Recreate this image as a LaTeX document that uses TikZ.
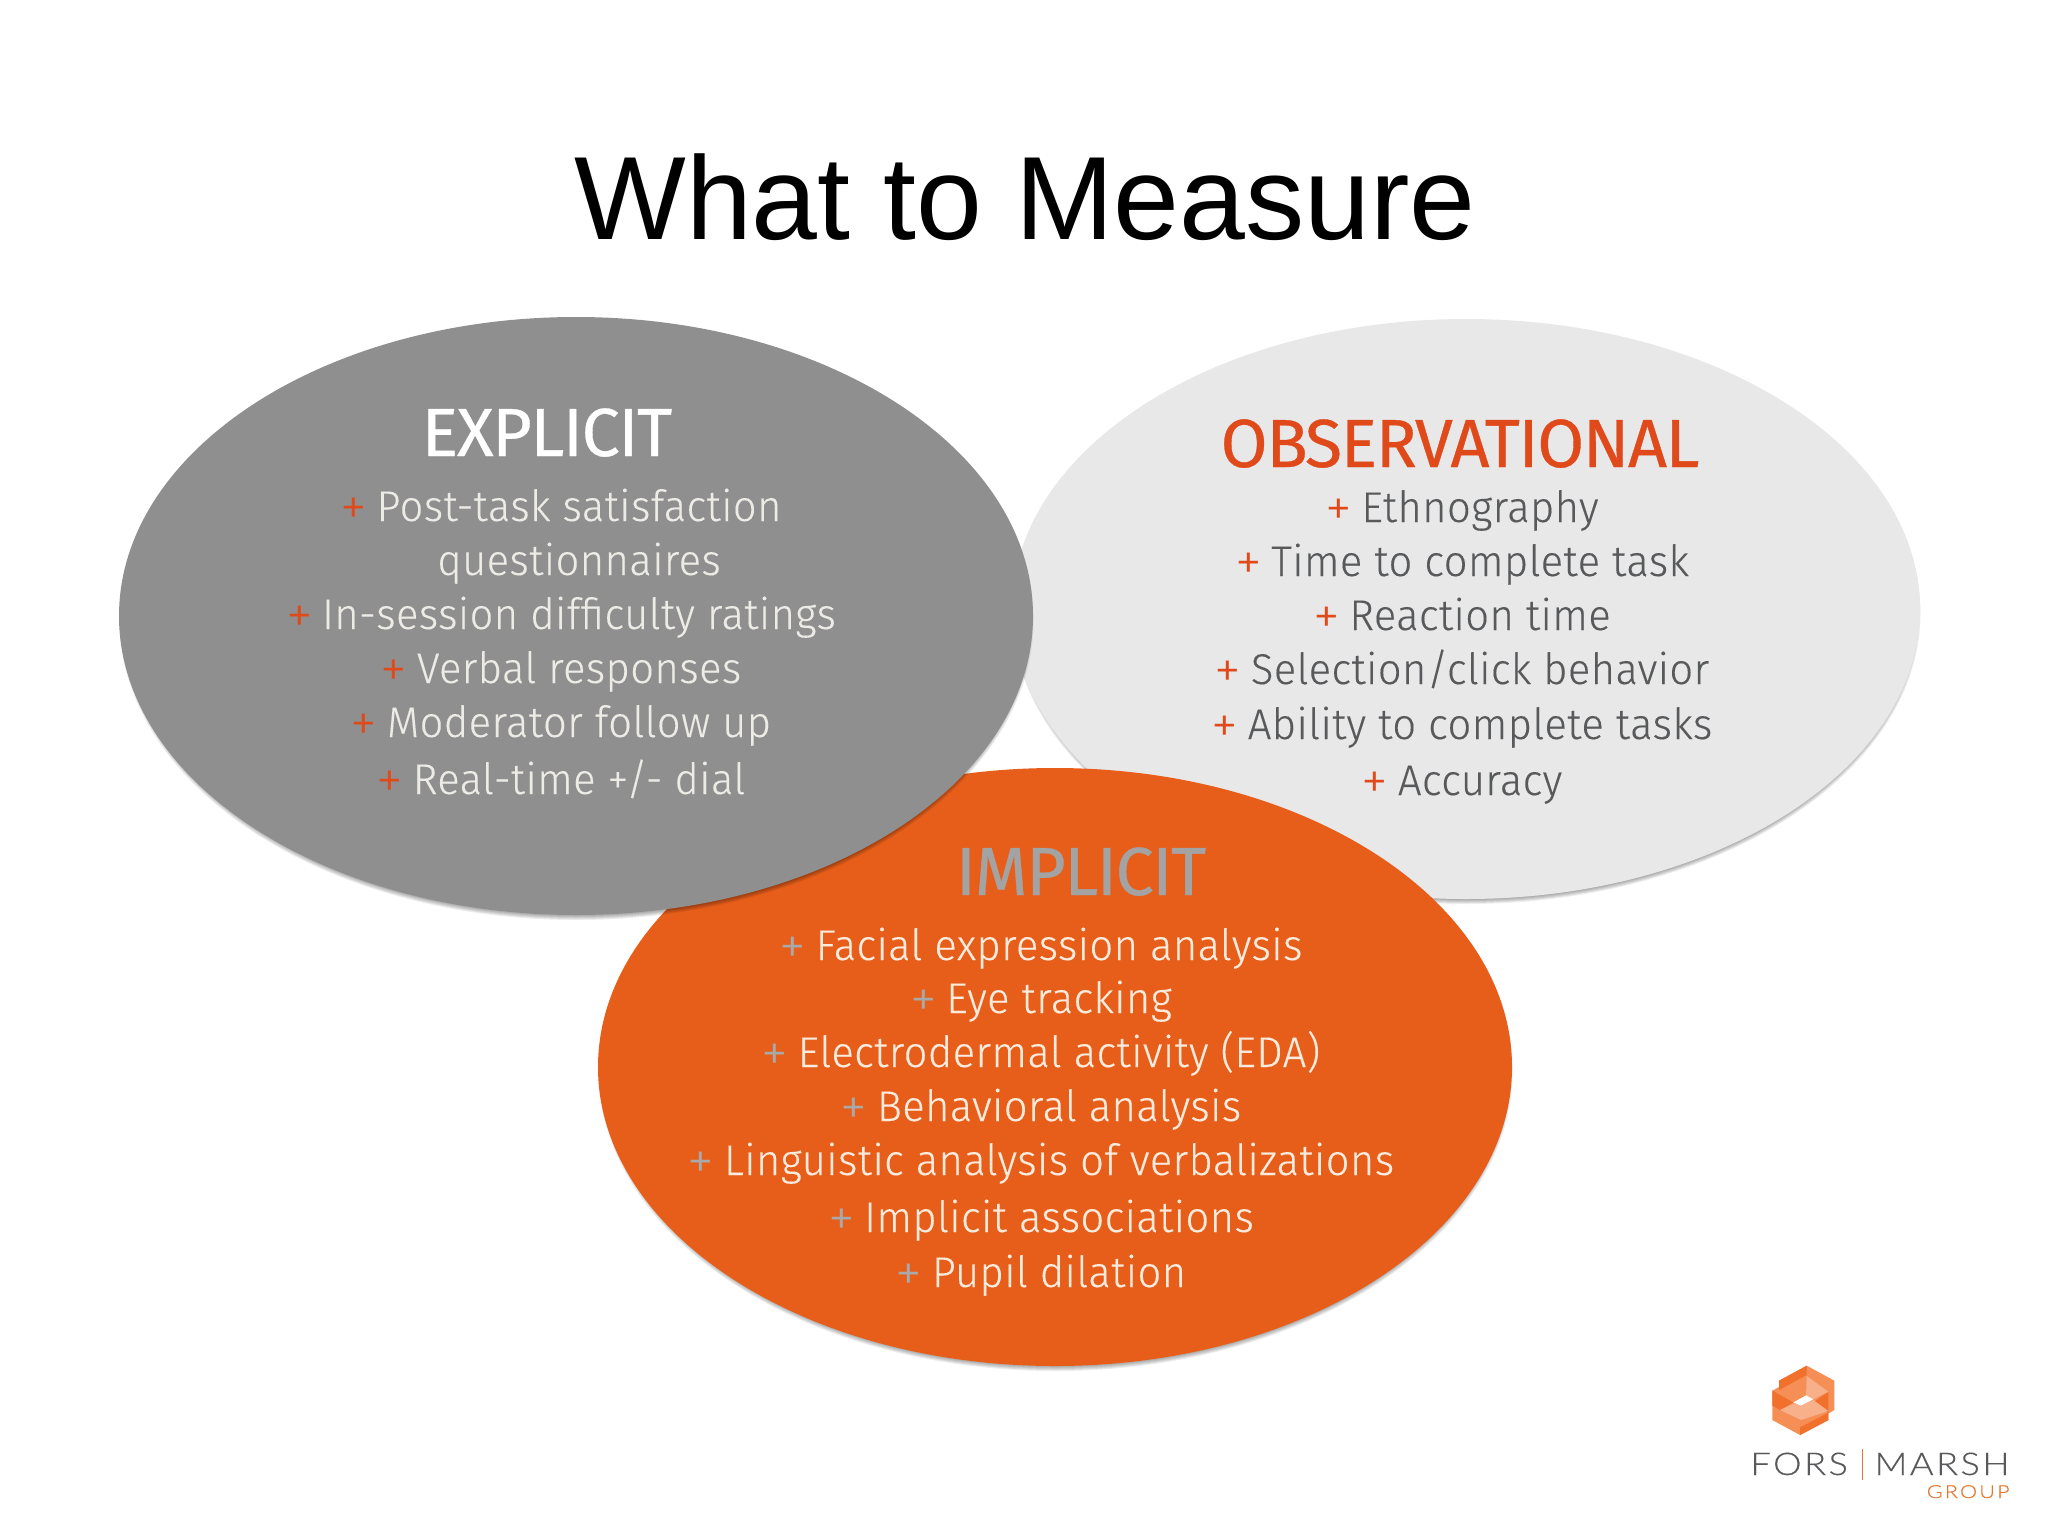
\documentclass[tikz,border=0pt]{standalone}
\usepackage{fontspec}
\usetikzlibrary{shapes.geometric}
\setmainfont{Liberation Sans}
\newfontfamily\bodyf[FakeStretch=0.97,LetterSpace=1.0,FakeBold=0.2]{Fira Sans Light}
\newfontfamily\plusf{Fira Sans Light}
\newfontfamily\headf[FakeStretch=1.0,LetterSpace=-2,FakeBold=0.5]{Fira Sans}
\newfontfamily\logof[FakeStretch=1.15,LetterSpace=8,FakeBold=0.3]{Lato Light}
\newfontfamily\groupf[FakeStretch=1.2,LetterSpace=12,FakeBold=0.4]{Lato Light}
\definecolor{bggray}{HTML}{8F8F8F}
\definecolor{bglight}{HTML}{E8E8E9}
\definecolor{bgorange}{HTML}{E75E1A}
\definecolor{plusred}{HTML}{E0491A}
\definecolor{txtlight}{HTML}{EDEBE6}
\definecolor{txtdark}{HTML}{58595B}
\definecolor{txtcream}{HTML}{FBEBDD}
\definecolor{plusgray}{HTML}{A9A9A9}
\definecolor{impl}{HTML}{A3A3A3}
\definecolor{logoa}{HTML}{F1702B}
\definecolor{logob}{HTML}{F58F56}
\definecolor{logoc}{HTML}{F8B08A}
\definecolor{logotxt}{HTML}{58595B}
\definecolor{logoor}{HTML}{E8742F}
\tikzset{
  blob/.style={ellipse,inner sep=0pt,outer sep=0pt},
  shade1/.style={fill=black,opacity=.07,draw=none},
  ttl/.style={anchor=base,inner sep=0pt,font=\headf\fontsize{34}{36}\selectfont},
  itm/.style={anchor=base,inner sep=0pt,font=\bodyf\fontsize{21.5}{24}\selectfont},
}
\newcommand{\softshadow}[4]{%
  \foreach \g in {0,1,...,4}{\fill[shade1] (#1+.5,#2+4) ellipse [x radius=#3+\g-4,y radius=#4+\g-3];}%
}
\newcommand{\pl}[2]{\textcolor{#1}{\raisebox{-2.2pt}{\plusf\fontsize{27}{24}\selectfont +}}\hspace{0.22em}#2}
\begin{document}
\begin{tikzpicture}[x=0.5pt,y=-0.5pt]
\useasboundingbox (0,0) rectangle (2048,1536);
\fill[white] (0,0) rectangle (2048,1536);
\node[anchor=base,inner sep=0pt,font=\fontsize{59.2}{62}\selectfont] (title) at (1025,239) {What to Measure};
% observational
\softshadow{1466}{609}{454}{290}
\node[blob,fill=bglight,minimum width=454pt,minimum height=290pt] (obs) at (1466,609) {};
% implicit
\softshadow{1055}{1067}{457}{299}
\node[blob,fill=bgorange,minimum width=457pt,minimum height=299pt] (imp) at (1055,1067) {};
% explicit
\softshadow{576}{616}{457}{299}
\node[blob,fill=bggray,minimum width=457pt,minimum height=299pt] (exp) at (576,616) {};
% explicit text
\node[ttl,text=white] (e0) at (547,456) {EXPLICIT};
\begin{scope}[every node/.style={itm,text=txtlight}]
\node (e1) at (561,521) {\pl{plusred}{Post-task satisfaction}};
\node (e2) at (579,575) {questionnaires};
\node (e3) at (561,629) {\pl{plusred}{In-session difficulty ratings}};
\node (e4) at (561,683) {\pl{plusred}{Verbal responses}};
\node (e5) at (561,737) {\pl{plusred}{Moderator follow up}};
\node (e6) at (561,794) {\pl{plusred}{Real-time +/- dial}};
\end{scope}
% observational text
\node[ttl,text=plusred] (o0) at (1460,467) {OBSERVATIONAL};
\begin{scope}[every node/.style={itm,text=txtdark}]
\node (o1) at (1462,522) {\pl{plusred}{Ethnography}};
\node (o2) at (1462,576) {\pl{plusred}{Time to complete task}};
\node (o3) at (1462,630) {\pl{plusred}{Reaction time}};
\node (o4) at (1462,684) {\pl{plusred}{Selection/click behavior}};
\node (o5) at (1462,739) {\pl{plusred}{Ability to complete tasks}};
\node (o6) at (1462,795) {\pl{plusred}{Accuracy}};
\end{scope}
% implicit text
\node[ttl,text=impl] (i0) at (1081,895) {IMPLICIT};
\begin{scope}[every node/.style={itm,text=txtcream}]
\node (i1) at (1041,960) {\pl{plusgray}{Facial expression analysis}};
\node (i2) at (1041,1013) {\pl{plusgray}{Eye tracking}};
\node (i3) at (1041,1067) {\pl{plusgray}{Electrodermal activity (EDA)}};
\node (i4) at (1041,1121) {\pl{plusgray}{Behavioral analysis}};
\node (i5) at (1041,1175) {\pl{plusgray}{Linguistic analysis of verbalizations}};
\node (i6) at (1041,1232) {\pl{plusgray}{Implicit associations}};
\node (i7) at (1041,1287) {\pl{plusgray}{Pupil dilation}};
\end{scope}
% logo
\begin{scope}[shift={(1700,1340)},x=0.1667pt,y=-0.1667pt]
\fill[logob] (320,77)--(403,122)--(403,210)--(385,220)--(385,240)--(300,285)--(217,240)--(217,152)--(237,141)--(237,122)--cycle;
\fill[logoa] (237,122)--(320,77)--(320,105)--(237,150)--cycle;
\fill[logoa] (217,152)--(280,187)--(240,210)--(217,197)--cycle;
\fill[logoa] (385,155)--(385,220)--(340,187)--cycle;
\fill[logoa] (300,262)--(385,218)--(385,240)--(300,285)--cycle;
\fill[logoc] (240,210)--(282,190)--(302,197)--(340,180)--(385,213)--(303,240)--cycle;
\fill[logoc] (320,108)--(385,155)--(340,178)--(318,166)--cycle;
\fill[white] (280,187)--(318,166)--(340,178)--(302,197)--cycle;
\end{scope}
\node[anchor=base west,inner sep=0pt,text=logotxt,font=\logof\fontsize{15.7}{16}\selectfont] (fors) at (1750,1475) {FORS};
\node[anchor=base east,inner sep=0pt,text=logotxt,font=\logof\fontsize{15.7}{16}\selectfont] (marsh) at (2010,1475) {MARSH};
\node[anchor=base east,inner sep=0pt,text=logoor,font=\groupf\fontsize{9}{10}\selectfont] (grp) at (2010,1498) {GROUP};
\coordinate (ba) at (1862,1449);
\coordinate (bb) at (1862,1480);
\draw[logoor,line width=.5pt] (ba) -- (bb);
\end{tikzpicture}
\end{document}
